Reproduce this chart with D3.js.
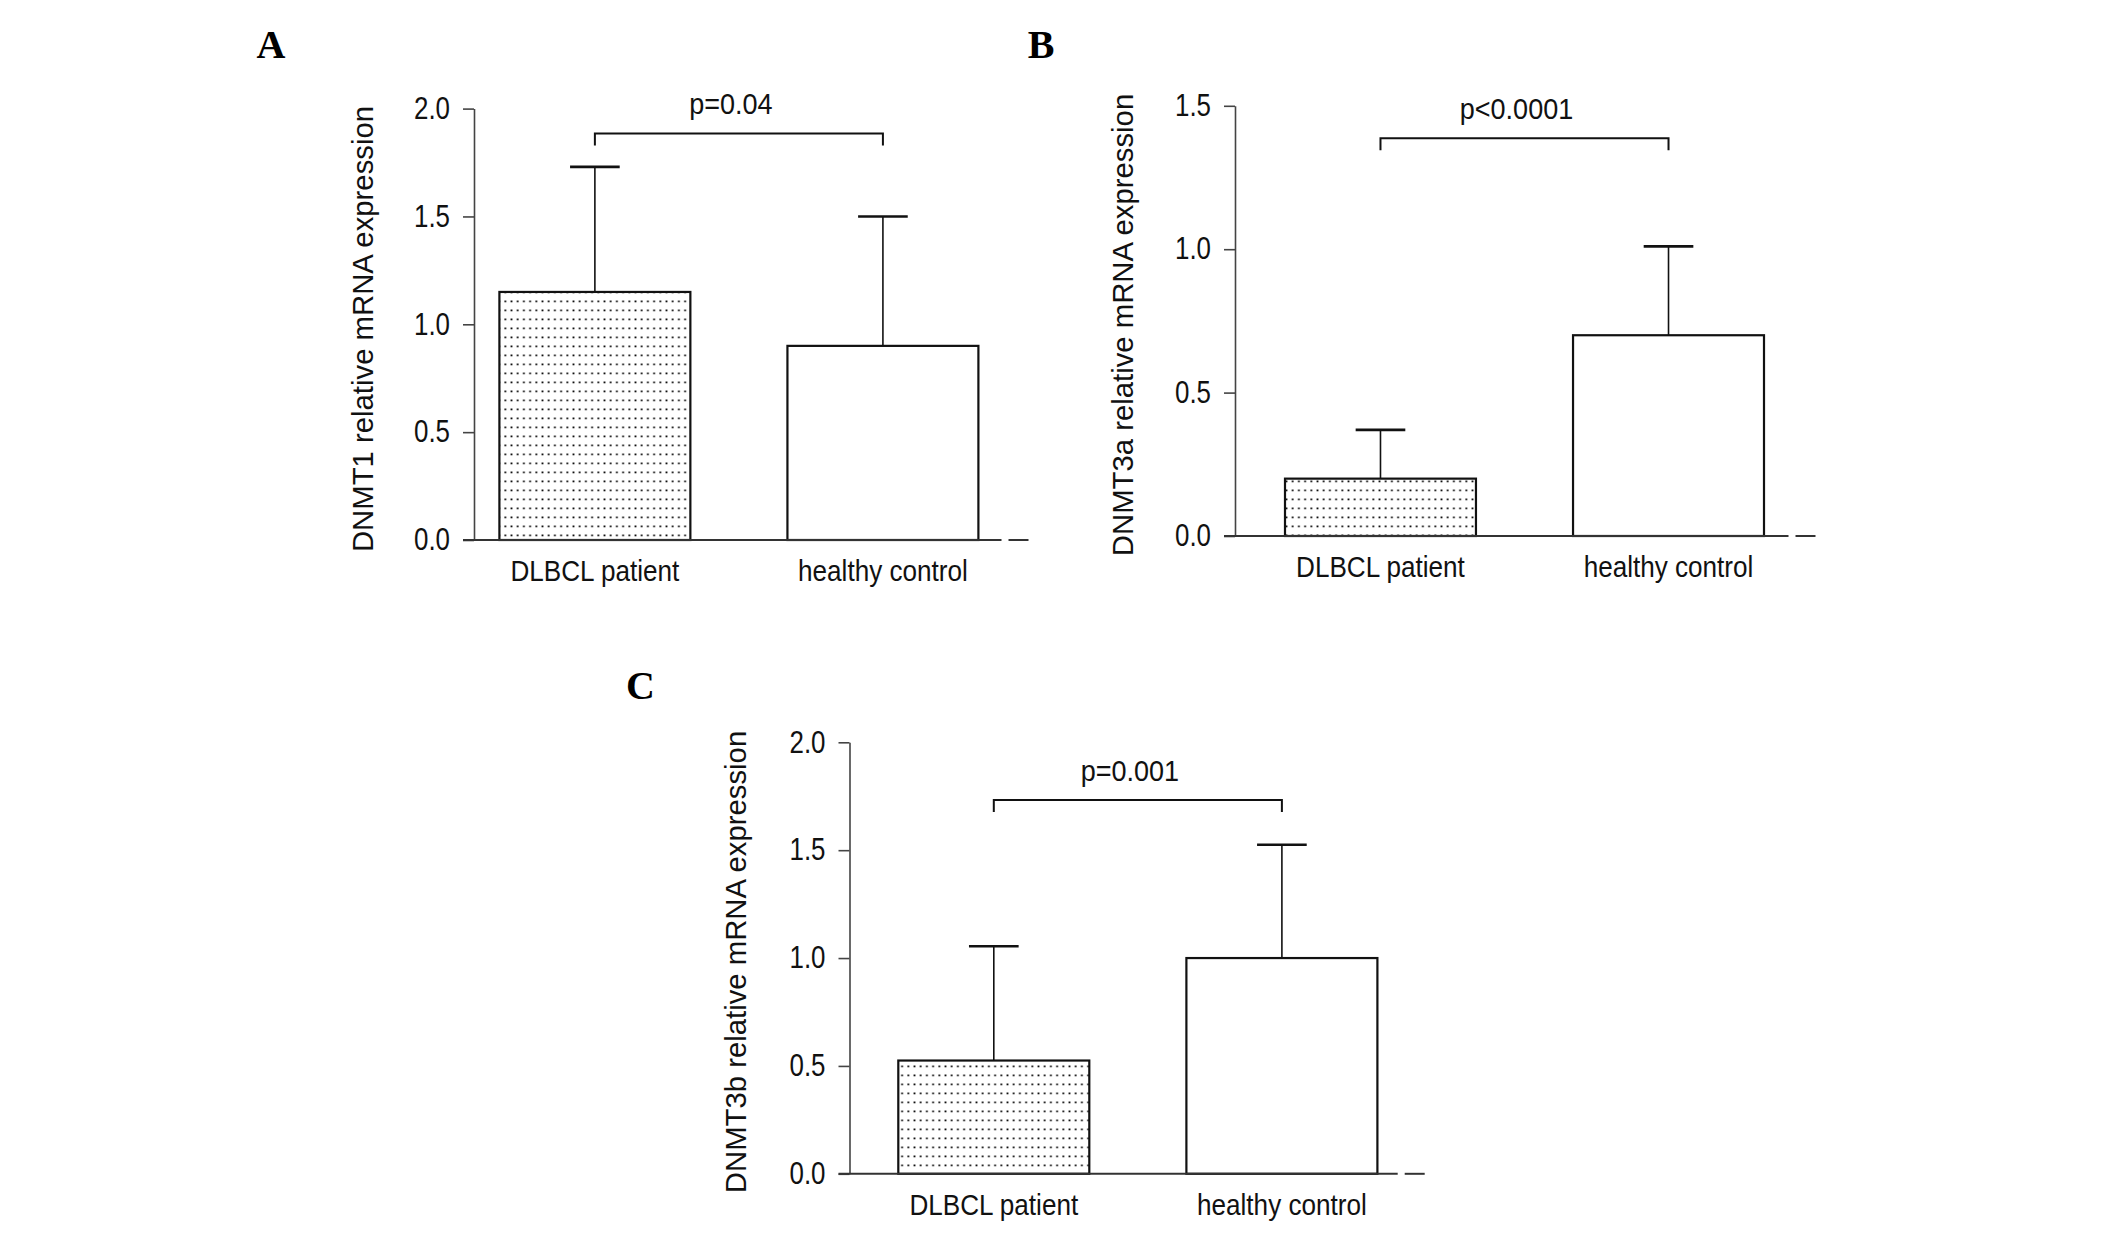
<!DOCTYPE html>
<html>
<head>
<meta charset="utf-8">
<script src="https://cdn.jsdelivr.net/npm/d3@7"></script>
<style>
  body { margin: 0; background: #fff; }
  svg { display: block; }
</style>
</head>
<body>
<script>
// values
const categories = ['DLBCL patient', 'healthy control'];

const dnmt1Mean = [1.15, 0.90];
const dnmt1Sd = [0.58, 0.60];

const dnmt3aMean = [0.20, 0.70];
const dnmt3aSd = [0.17, 0.31];

const dnmt3bMean = [0.525, 1.00];
const dnmt3bSd = [0.53, 0.525];

const ticksA = [0, 0.5, 1.0, 1.5, 2.0];
const ticksB = [0, 0.5, 1.0, 1.5];
const ticksC = [0, 0.5, 1.0, 1.5, 2.0];

const pLabels = ['p=0.04', 'p<0.0001', 'p=0.001'];
const bracketLevel = [1.885, 1.387, 1.733];

const sans = "'Liberation Sans', Arial, sans-serif";

const svg = d3.select('body')
  .append('svg')
  .attr('width', 2126)
  .attr('height', 1260);

// no narrow face installed, so squeeze the regular one
function condense(sel, k = 0.87) {
  sel.each(function () {
    const len = this.getComputedTextLength();
    d3.select(this)
      .attr('textLength', len * k)
      .attr('lengthAdjust', 'spacingAndGlyphs');
  });
}

const defs = svg.append('defs');
const pat = defs.append('pattern')
  .attr('id', 'dots')
  .attr('patternUnits', 'userSpaceOnUse')
  .attr('width', 6.2)
  .attr('height', 9);
pat.append('rect').attr('width', 6.2).attr('height', 9).attr('fill', '#fff');
pat.append('rect')
  .attr('x', 2.2).attr('y', 3.5)
  .attr('width', 1.8).attr('height', 1.8)
  .attr('fill', '#111');

function panel(opt) {
  const g = svg.append('g');

  const y = d3.scaleLinear()
    .domain([0, d3.max(opt.ticks)])
    .range([opt.y0, opt.y1]);

  const x = d3.scaleBand()
    .domain(categories)
    .range([opt.bandStart, opt.bandEnd])
    .paddingInner(0.337)
    .paddingOuter(0);

  // panel letter
  g.append('text')
    .attr('x', opt.letterX)
    .attr('y', opt.letterY)
    .attr('font-family', "'Liberation Serif', serif")
    .attr('font-weight', 'bold')
    .attr('font-size', 40)
    .attr('text-anchor', 'middle')
    .text(opt.letter);

  // y axis
  const yAxis = d3.axisLeft(y)
    .tickValues(opt.ticks)
    .tickFormat(d3.format('.1f'))
    .tickSize(11)
    .tickPadding(13)
    .tickSizeOuter(0);

  const ag = g.append('g')
    .attr('transform', `translate(${opt.axisX},0)`)
    .call(yAxis);
  ag.select('.domain').attr('stroke', '#444').attr('stroke-width', 1.6);
  ag.selectAll('.tick line').attr('stroke', '#444').attr('stroke-width', 1.6);
  ag.selectAll('.tick text')
    .attr('font-family', sans)
    .attr('font-size', 30.5)
    .attr('fill', '#111')
    .call(condense, 0.85);

  // y label
  g.append('text')
    .attr('transform', `translate(${opt.labelX},${opt.labelY}) rotate(-90)`)
    .attr('text-anchor', 'middle')
    .attr('font-family', sans)
    .attr('font-size', 29.3)
    .attr('fill', '#111')
    .text(opt.label);

  const rows = categories.map((c, i) => ({ c, m: opt.mean[i], s: opt.sd[i] }));

  // error bars
  const cap = x.bandwidth() * 0.26;
  rows.forEach(d => {
    const cx = x(d.c) + x.bandwidth() / 2;
    g.append('line')
      .attr('x1', cx).attr('x2', cx)
      .attr('y1', y(d.m)).attr('y2', y(d.m + d.s))
      .attr('stroke', '#111').attr('stroke-width', 1.6);
    g.append('line')
      .attr('x1', cx - cap / 2).attr('x2', cx + cap / 2)
      .attr('y1', y(d.m + d.s)).attr('y2', y(d.m + d.s))
      .attr('stroke', '#111').attr('stroke-width', 2.6);
  });

  // bars
  g.selectAll('rect.bar')
    .data(rows)
    .enter()
    .append('rect')
    .attr('class', 'bar')
    .attr('x', d => x(d.c))
    .attr('y', d => y(d.m))
    .attr('width', x.bandwidth())
    .attr('height', d => y(0) - y(d.m))
    .attr('fill', (d, i) => i === 0 ? 'url(#dots)' : '#fff')
    .attr('stroke', '#111')
    .attr('stroke-width', 2.2);

  // x axis line plus the short dash at its end
  g.append('line')
    .attr('x1', opt.axisX - 11).attr('x2', opt.xEnd)
    .attr('y1', y(0)).attr('y2', y(0))
    .attr('stroke', '#333').attr('stroke-width', 2);
  g.append('line')
    .attr('x1', opt.xEnd + 7).attr('x2', opt.xEnd + 27)
    .attr('y1', y(0)).attr('y2', y(0))
    .attr('stroke', '#333').attr('stroke-width', 2);

  // category labels
  g.selectAll('text.cat')
    .data(categories)
    .enter()
    .append('text')
    .attr('class', 'cat')
    .attr('x', d => x(d) + x.bandwidth() / 2)
    .attr('y', y(0) + 41)
    .attr('text-anchor', 'middle')
    .attr('font-family', sans)
    .attr('font-size', 30)
    .attr('fill', '#111')
    .text(d => d)
    .call(condense);

  // significance bracket
  const bx1 = x(categories[0]) + x.bandwidth() / 2;
  const bx2 = x(categories[1]) + x.bandwidth() / 2;
  const by = y(opt.bracket);
  g.append('path')
    .attr('d', `M${bx1},${by + 12}V${by}H${bx2}V${by + 12}`)
    .attr('fill', 'none')
    .attr('stroke', '#111')
    .attr('stroke-width', 2);
  g.append('text')
    .attr('x', (bx1 + bx2) / 2 - 8)
    .attr('y', by - 19)
    .attr('text-anchor', 'middle')
    .attr('font-family', sans)
    .attr('font-size', 30)
    .attr('fill', '#111')
    .text(opt.p)
    .call(condense, 0.9);
}

panel({
  letter: 'A', letterX: 271, letterY: 58,
  label: 'DNMT1 relative mRNA expression', labelX: 373, labelY: 329,
  mean: dnmt1Mean, sd: dnmt1Sd, ticks: ticksA,
  axisX: 474, y0: 540, y1: 108.6,
  bandStart: 499.4, bandEnd: 978.4, xEnd: 1001.5,
  bracket: bracketLevel[0], p: pLabels[0]
});

panel({
  letter: 'B', letterX: 1041, letterY: 58,
  label: 'DNMT3a relative mRNA expression', labelX: 1133, labelY: 325,
  mean: dnmt3aMean, sd: dnmt3aSd, ticks: ticksB,
  axisX: 1235, y0: 536, y1: 105.8,
  bandStart: 1285, bandEnd: 1764, xEnd: 1788.5,
  bracket: bracketLevel[1], p: pLabels[1]
});

panel({
  letter: 'C', letterX: 640.5, letterY: 699,
  label: 'DNMT3b relative mRNA expression', labelX: 746, labelY: 962,
  mean: dnmt3bMean, sd: dnmt3bSd, ticks: ticksC,
  axisX: 849.5, y0: 1173.8, y1: 742.3,
  bandStart: 898.3, bandEnd: 1377.4, xEnd: 1397.7,
  bracket: bracketLevel[2], p: pLabels[2]
});
</script>
</body>
</html>
